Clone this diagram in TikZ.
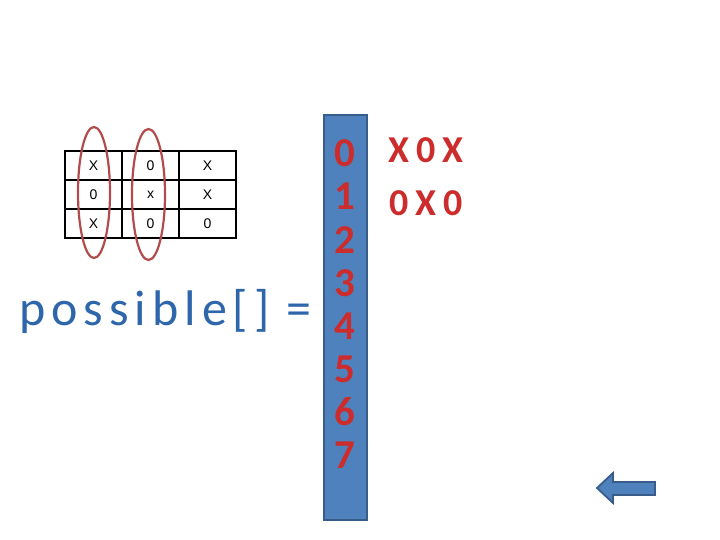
\documentclass[tikz,border=0pt]{standalone}
\usepackage{fontspec}
\setmainfont{Carlito}
\newfontfamily\cellfont{Liberation Sans}
\newfontfamily\widefont[LetterSpace=12]{Carlito}
\newfontfamily\rowfont[LetterSpace=18]{Carlito}
\usetikzlibrary{shapes.geometric}
\definecolor{barblue}{RGB}{79,129,189}
\definecolor{barline}{RGB}{56,93,138}
\definecolor{ringred}{RGB}{178,76,76}
\definecolor{digitred}{RGB}{204,44,44}
\definecolor{titleblue}{RGB}{46,102,172}
\tikzset{
  cell/.style={minimum width=57pt,minimum height=29pt,outer sep=0pt,
    inner sep=0pt,font=\cellfont\fontsize{14}{14}\selectfont},
  grid/.style={line width=1.4pt},
  ring/.style={draw=ringred,line width=2.2pt,ellipse,inner sep=0pt},
  digit/.style={digitred,anchor=base,inner sep=0pt,
    font=\bfseries\fontsize{41}{41}\selectfont},
  rowtext/.style={digitred,anchor=base,inner sep=0pt,
    font=\rowfont\bfseries\fontsize{38}{38}\selectfont}
}

\begin{document}
\begin{tikzpicture}[x=1pt,y=-1pt]
  \useasboundingbox (0,0) rectangle (720,540);

  % Board
  \node[cell] (c11) at (93.5,165.5) {X};
  \node[cell] (c12) at (150.5,165.5) {0};
  \node[cell] (c13) at (207.5,165.5) {X};
  \node[cell] (c21) at (93.5,194.5) {0};
  \node[cell] (c22) at (150.5,194.5) {x};
  \node[cell] (c23) at (207.5,194.5) {X};
  \node[cell] (c31) at (93.5,223.5) {X};
  \node[cell] (c32) at (150.5,223.5) {0};
  \node[cell] (c33) at (207.5,223.5) {0};
  \draw[grid] (c11.north west) rectangle (c33.south east);
  \draw[grid] (c11.north east) -- (c31.south east);
  \draw[grid] (c12.north east) -- (c32.south east);
  \draw[grid] (c11.south west) -- (c13.south east);
  \draw[grid] (c21.south west) -- (c23.south east);

  % Circled columns
  \node[ring,minimum width=32pt,minimum height=131pt] (ringa) at (94,192.5) {};
  \node[ring,minimum width=33pt,minimum height=131pt] (ringb) at (148.5,194.5) {};

  % Array
  \node[titleblue,anchor=base west,inner sep=0pt,
    font=\widefont\fontsize{50}{50}\selectfont]
    (title) at (19,325) {possible[] =};

  \node[draw=barline,fill=barblue,line width=2pt,inner sep=0pt,
    minimum width=43pt,minimum height=404pt] (bar) at (345,317.5) {};
  \foreach \d in {0,...,7}
    \node[digit] (d\d) at (345,167+43*\d) {\d};

  % Stored rows
  \node[rowtext] (rowa) at (426,163) {X0X};
  \node[rowtext] (rowb) at (426,215) {0X0};

  % Back arrow
  \draw[fill=barblue,draw=barline,line width=1.8pt,line join=miter]
    (597,488) -- (613,473) -- (613,482) -- (655,482) -- (655,495)
    -- (613,495) -- (613,503) -- cycle;
\end{tikzpicture}
\end{document}
